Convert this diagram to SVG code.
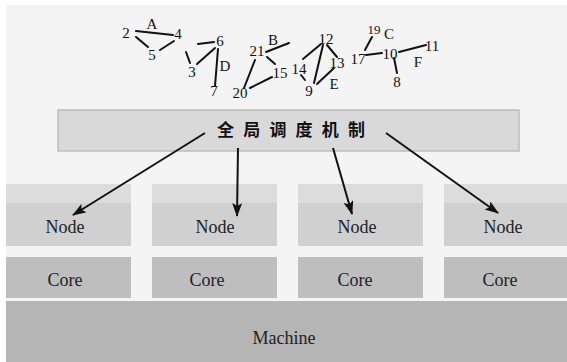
<svg xmlns="http://www.w3.org/2000/svg" width="567" height="362" viewBox="0 0 567 362">
<defs>
<style>
.bg{fill:#f4f4f4}
.ntop{fill:#dcdcdc}
.nbot{fill:#d0d0d0}
.core{fill:#bebebe}
.mach{fill:#b5b5b5}
.bar{fill:#d9d9d9;stroke:#bdbdbd;stroke-width:1.5}
.lbl{font-family:"Liberation Serif","Times New Roman",serif;font-size:18px;fill:#222;text-anchor:middle}
.g{font-family:"Liberation Serif","Times New Roman",serif;font-size:15px;fill:#111;text-anchor:middle}
.e{stroke:#111;stroke-width:2;fill:none;stroke-linecap:round}
.arr{stroke:#111;stroke-width:2;fill:none}
.cn{font-family:"Noto Sans CJK SC","Noto Sans",sans-serif;font-size:17px;font-weight:bold;fill:#111;letter-spacing:9.2px}
</style>
<marker id="ah" markerUnits="userSpaceOnUse" markerWidth="14" markerHeight="10" refX="13" refY="5" orient="auto">
<path d="M0,0 L14,5 L0,10 L3,5 Z" fill="#111"/>
</marker>
</defs>
<rect x="0" y="0" width="567" height="362" fill="#ffffff"/>
<rect class="bg" x="6" y="5" width="561" height="357"/>

<g id="graph">
<g class="e">
<line x1="136" y1="31" x2="173" y2="35"/>
<line x1="136" y1="37" x2="148" y2="47"/>
<line x1="160" y1="50" x2="174" y2="41"/>
<line x1="186" y1="52" x2="190" y2="63"/>
<line x1="198" y1="44" x2="214" y2="42"/>
<line x1="197" y1="64" x2="215" y2="48"/>
<line x1="218" y1="49" x2="215" y2="86"/>
<line x1="266" y1="52" x2="289" y2="43"/>
<line x1="267" y1="57" x2="275" y2="64"/>
<line x1="244" y1="88" x2="255" y2="60"/>
<line x1="250" y1="88" x2="272" y2="77"/>
<line x1="321" y1="44" x2="303" y2="59"/>
<line x1="323" y1="45" x2="314" y2="83"/>
<line x1="327" y1="45" x2="337" y2="57"/>
<line x1="334" y1="68" x2="317" y2="84"/>
<line x1="301" y1="75" x2="305" y2="80"/>
<line x1="372" y1="37" x2="365" y2="50"/>
<line x1="366" y1="55" x2="382" y2="53"/>
<line x1="399" y1="52" x2="426" y2="45"/>
<line x1="394" y1="58" x2="397" y2="73"/>
</g>
<text class="g" x="126" y="38">2</text>
<text class="g" x="152" y="29">A</text>
<text class="g" x="178" y="39">4</text>
<text class="g" x="152" y="60">5</text>
<text class="g" x="220" y="46">6</text>
<text class="g" x="192" y="77">3</text>
<text class="g" x="225" y="71">D</text>
<text class="g" x="214" y="96">7</text>
<text class="g" x="240" y="98">20</text>
<text class="g" x="257" y="56">21</text>
<text class="g" x="273" y="45">B</text>
<text class="g" x="280" y="78">15</text>
<text class="g" x="326" y="44">12</text>
<text class="g" x="299" y="74">14</text>
<text class="g" x="337" y="68">13</text>
<text class="g" x="309" y="96">9</text>
<text class="g" x="334" y="89">E</text>
<text class="g" x="374" y="34" style="font-size:13px">19</text>
<text class="g" x="389" y="39">C</text>
<text class="g" x="358" y="64">17</text>
<text class="g" x="390" y="59">10</text>
<text class="g" x="432" y="51">11</text>
<text class="g" x="418" y="67">F</text>
<text class="g" x="397" y="87">8</text>
</g>

<g id="scheduler">
<rect class="bar" x="58" y="110" width="461" height="41"/>
<text class="cn" x="217" y="136">全局调度机制</text>
</g>

<g id="node1">
<rect class="nbot" x="6" y="184" width="125" height="62"/>
<rect class="ntop" x="6" y="184" width="125" height="19"/>
<text class="lbl" x="65" y="233">Node</text>
</g>
<g id="node2">
<rect class="nbot" x="152" y="184" width="125" height="62"/>
<rect class="ntop" x="152" y="184" width="125" height="19"/>
<text class="lbl" x="215" y="233">Node</text>
</g>
<g id="node3">
<rect class="nbot" x="298" y="184" width="125" height="62"/>
<rect class="ntop" x="298" y="184" width="125" height="19"/>
<text class="lbl" x="357" y="233">Node</text>
</g>
<g id="node4">
<rect class="nbot" x="444" y="184" width="123" height="62"/>
<rect class="ntop" x="444" y="184" width="123" height="19"/>
<text class="lbl" x="503" y="233">Node</text>
</g>

<g id="core1">
<rect class="core" x="6" y="257" width="125" height="41"/>
<text class="lbl" x="65" y="286">Core</text>
</g>
<g id="core2">
<rect class="core" x="152" y="257" width="125" height="41"/>
<text class="lbl" x="207" y="286">Core</text>
</g>
<g id="core3">
<rect class="core" x="298" y="257" width="125" height="41"/>
<text class="lbl" x="355" y="286">Core</text>
</g>
<g id="core4">
<rect class="core" x="444" y="257" width="123" height="41"/>
<text class="lbl" x="500" y="286">Core</text>
</g>

<g id="machine">
<rect class="mach" x="6" y="301" width="561" height="61"/>
<text class="lbl" x="284" y="344">Machine</text>
</g>

<g id="connectors">
<line class="arr" x1="205" y1="133" x2="73" y2="215" marker-end="url(#ah)"/>
<line class="arr" x1="238" y1="148" x2="237" y2="216" marker-end="url(#ah)"/>
<line class="arr" x1="333" y1="148" x2="352" y2="214" marker-end="url(#ah)"/>
<line class="arr" x1="386" y1="133" x2="498" y2="213" marker-end="url(#ah)"/>
</g>
</svg>
